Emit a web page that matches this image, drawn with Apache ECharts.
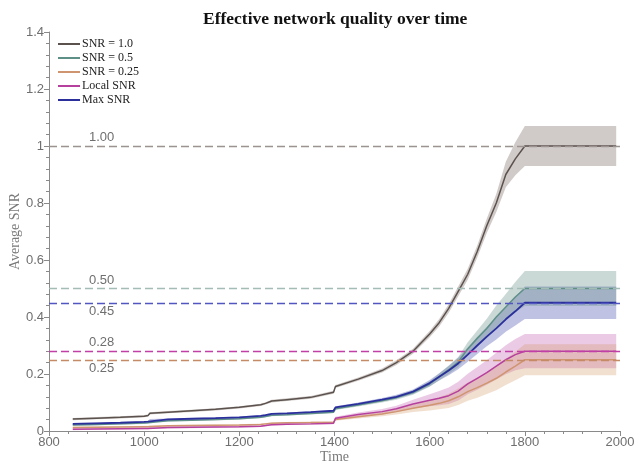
<!DOCTYPE html>
<html><head><meta charset="utf-8">
<script src="https://cdn.jsdelivr.net/npm/echarts@6/dist/echarts.min.js"></script>
<style>html,body{margin:0;padding:0;background:#fff}#c{width:635px;height:467px}</style>
</head><body><div id="c"></div>
<script>
const title = 'Effective network quality over time';
const xTicks = [800, 1000, 1200, 1400, 1600, 1800, 2000];
const yTicks = [0, 0.2, 0.4, 0.6, 0.8, 1, 1.2, 1.4];
const time = [850, 900, 950, 1000, 1008, 1012, 1050, 1100, 1150, 1200, 1245, 1255, 1268, 1300, 1350, 1398, 1402, 1450, 1500, 1530, 1565, 1600, 1620, 1640, 1660, 1680, 1700, 1720, 1740, 1760, 1780, 1800, 1992];
const names = ['SNR = 1.0', 'SNR = 0.5', 'SNR = 0.25', 'Local SNR', 'Max SNR'];
const snr10 = [0.042, 0.045, 0.048, 0.052, 0.054, 0.062, 0.066, 0.071, 0.076, 0.083, 0.092, 0.097, 0.105, 0.110, 0.118, 0.136, 0.156, 0.182, 0.212, 0.240, 0.280, 0.340, 0.380, 0.430, 0.490, 0.550, 0.630, 0.720, 0.800, 0.900, 0.955, 1.0, 1.0];
const snr05 = [0.021, 0.023, 0.025, 0.028, 0.029, 0.034, 0.036, 0.038, 0.040, 0.043, 0.048, 0.051, 0.055, 0.057, 0.061, 0.066, 0.078, 0.091, 0.106, 0.117, 0.135, 0.165, 0.190, 0.215, 0.242, 0.288, 0.325, 0.360, 0.400, 0.435, 0.470, 0.50, 0.50];
const snr025 = [0.012, 0.013, 0.014, 0.015, 0.015, 0.017, 0.018, 0.019, 0.020, 0.021, 0.023, 0.025, 0.027, 0.029, 0.030, 0.031, 0.040, 0.050, 0.060, 0.068, 0.080, 0.090, 0.097, 0.106, 0.120, 0.138, 0.152, 0.168, 0.185, 0.207, 0.228, 0.25, 0.25];
const localSnr = [0.006, 0.007, 0.008, 0.009, 0.009, 0.011, 0.012, 0.013, 0.014, 0.015, 0.017, 0.019, 0.022, 0.024, 0.025, 0.027, 0.045, 0.058, 0.068, 0.078, 0.095, 0.108, 0.115, 0.124, 0.140, 0.165, 0.185, 0.205, 0.228, 0.250, 0.268, 0.28, 0.28];
const maxSnr = [0.025, 0.027, 0.029, 0.032, 0.033, 0.039, 0.041, 0.043, 0.045, 0.048, 0.053, 0.056, 0.060, 0.062, 0.066, 0.071, 0.083, 0.095, 0.110, 0.120, 0.138, 0.168, 0.190, 0.212, 0.237, 0.268, 0.300, 0.331, 0.360, 0.392, 0.420, 0.45, 0.45];
const sd10 = [0.004, 0.004, 0.004, 0.004, 0.004, 0.004, 0.004, 0.004, 0.004, 0.004, 0.004, 0.004, 0.005, 0.005, 0.005, 0.005, 0.005, 0.006, 0.007, 0.008, 0.009, 0.011, 0.013, 0.015, 0.017, 0.019, 0.021, 0.025, 0.032, 0.045, 0.058, 0.07, 0.07];
const sd05 = [0.003, 0.003, 0.003, 0.003, 0.003, 0.003, 0.003, 0.003, 0.003, 0.003, 0.003, 0.003, 0.003, 0.003, 0.003, 0.003, 0.004, 0.005, 0.006, 0.007, 0.008, 0.010, 0.012, 0.015, 0.018, 0.023, 0.028, 0.034, 0.040, 0.046, 0.053, 0.061, 0.061];
const sd025 = [0.003, 0.003, 0.003, 0.003, 0.003, 0.003, 0.003, 0.003, 0.003, 0.003, 0.003, 0.003, 0.003, 0.003, 0.003, 0.003, 0.004, 0.006, 0.008, 0.010, 0.013, 0.018, 0.021, 0.025, 0.029, 0.032, 0.035, 0.038, 0.042, 0.046, 0.050, 0.054, 0.054];
const sdLocal = [0.003, 0.003, 0.003, 0.003, 0.003, 0.003, 0.003, 0.003, 0.003, 0.003, 0.003, 0.003, 0.003, 0.003, 0.003, 0.003, 0.005, 0.007, 0.009, 0.011, 0.015, 0.021, 0.025, 0.029, 0.033, 0.036, 0.040, 0.043, 0.047, 0.051, 0.055, 0.06, 0.06];
const sdMax = [0.003, 0.003, 0.003, 0.003, 0.003, 0.003, 0.003, 0.003, 0.003, 0.003, 0.003, 0.003, 0.003, 0.003, 0.003, 0.003, 0.004, 0.005, 0.006, 0.007, 0.008, 0.011, 0.013, 0.016, 0.020, 0.025, 0.030, 0.034, 0.039, 0.044, 0.050, 0.057, 0.057];
const refValues = [1.0, 0.5, 0.45, 0.28, 0.25];
const refLabels = ['1.00', '0.50', '0.45', '0.28', '0.25'];

const means = [snr10, snr05, snr025, localSnr, maxSnr];
const sds = [sd10, sd05, sd025, sdLocal, sdMax];
const lineColors = ['#5b524e', '#5e9088', '#cf9570', '#b6409e', '#2b2f9c'];
const bandColors = ['rgba(150,138,133,0.45)', 'rgba(110,150,140,0.36)', 'rgba(210,150,100,0.3)', 'rgba(190,80,170,0.3)', 'rgba(60,70,170,0.33)'];
const refColors = ['#9b938f', '#a3bcb6', '#5156c0', '#c13fa6', '#c58b66'];
const refBelow = [false, false, true, false, true];

const series = [];
// bands drawn as polygons through the axis scales
[4, 1, 3, 2, 0].forEach(function (k) {
  series.push({
    type: 'custom', name: 'band' + k, silent: true, z: 1,
    data: [[time[0], means[k][0]]],
    encode: { x: 0, y: 1 },
    renderItem: function (params, api) {
      const pts = [];
      for (let i = 0; i < time.length; i++) pts.push(api.coord([time[i], means[k][i] + sds[k][i]]));
      for (let i = time.length - 1; i >= 0; i--) pts.push(api.coord([time[i], means[k][i] - sds[k][i]]));
      return { type: 'polygon', shape: { points: pts }, style: { fill: bandColors[k] } };
    }
  });
});
// reference lines
refValues.forEach(function (v, j) {
  series.push({
    type: 'line', name: 'ref' + j, data: [], silent: true,
    markLine: {
      symbol: 'none', silent: true, animation: false,
      lineStyle: { color: refColors[j], type: [8, 4], width: 1.3 },
      label: {
        show: true, formatter: refLabels[j],
        position: refBelow[j] ? 'insideStartBottom' : 'insideStartTop',
        distance: [40, 2],
        color: '#6f6f6f', fontFamily: 'Liberation Sans', fontSize: 13
      },
      data: [{ yAxis: v }]
    },
    z: 2
  });
});
// mean lines
[0, 2, 3, 1, 4].forEach(function (k) {
  series.push({
    type: 'line', name: names[k], symbol: 'none', showSymbol: false,
    color: lineColors[k],
    lineStyle: { color: lineColors[k], width: k === 4 ? 1.8 : 1.5 },
    data: time.map(function (t, i) { return [t, means[k][i]]; }),
    z: 3
  });
});

const chart = echarts.init(document.getElementById('c'), null, { renderer: 'canvas' });
chart.setOption({
  animation: false,
  backgroundColor: '#fff',
  title: {
    text: title, left: 198, top: 5,
    textStyle: { fontFamily: 'Liberation Serif', fontWeight: 'bold', fontSize: 17.5, color: '#111' }
  },
  legend: {
    data: names, orient: 'vertical', left: 53, top: 33,
    icon: 'rect', itemWidth: 22, itemHeight: 2, itemGap: 2,
    textStyle: { fontFamily: 'Liberation Serif', fontSize: 12, color: '#222', lineHeight: 12, padding: [0, 0, 0, -3] }
  },
  grid: { left: 49, right: 15, top: 32, bottom: 36, containLabel: false, outerBoundsMode: 'none' },
  xAxis: {
    type: 'value', min: xTicks[0], max: xTicks[xTicks.length - 1], interval: 200,
    name: 'Time', nameLocation: 'middle', nameGap: 19, nameMoveOverlap: false,
    nameTextStyle: { fontFamily: 'Liberation Serif', fontSize: 14, color: '#7a7a7a' },
    axisLine: { show: true, lineStyle: { color: '#8a8a8a' } },
    axisTick: { show: true, length: 5, lineStyle: { color: '#8a8a8a' } },
    minorTick: { show: true, splitNumber: 5, length: 3, lineStyle: { color: '#8a8a8a' } },
    splitLine: { show: false },
    axisLabel: { margin: 5, fontFamily: 'Liberation Sans', fontSize: 13, color: '#6f6f6f', formatter: function (v) { return String(v); } }
  },
  yAxis: {
    type: 'value', min: yTicks[0], max: yTicks[yTicks.length - 1], interval: 0.2,
    name: 'Average SNR', nameLocation: 'middle', nameGap: 27, nameMoveOverlap: false,
    nameTextStyle: { fontFamily: 'Liberation Serif', fontSize: 14, color: '#7a7a7a' },
    axisLine: { show: true, lineStyle: { color: '#8a8a8a' } },
    axisTick: { show: true, length: 5, lineStyle: { color: '#8a8a8a' } },
    minorTick: { show: true, splitNumber: 5, length: 3, lineStyle: { color: '#8a8a8a' } },
    splitLine: { show: false },
    axisLabel: { margin: 5, fontFamily: 'Liberation Sans', fontSize: 13, color: '#6f6f6f' }
  },
  series: series
});
</script></body></html>
